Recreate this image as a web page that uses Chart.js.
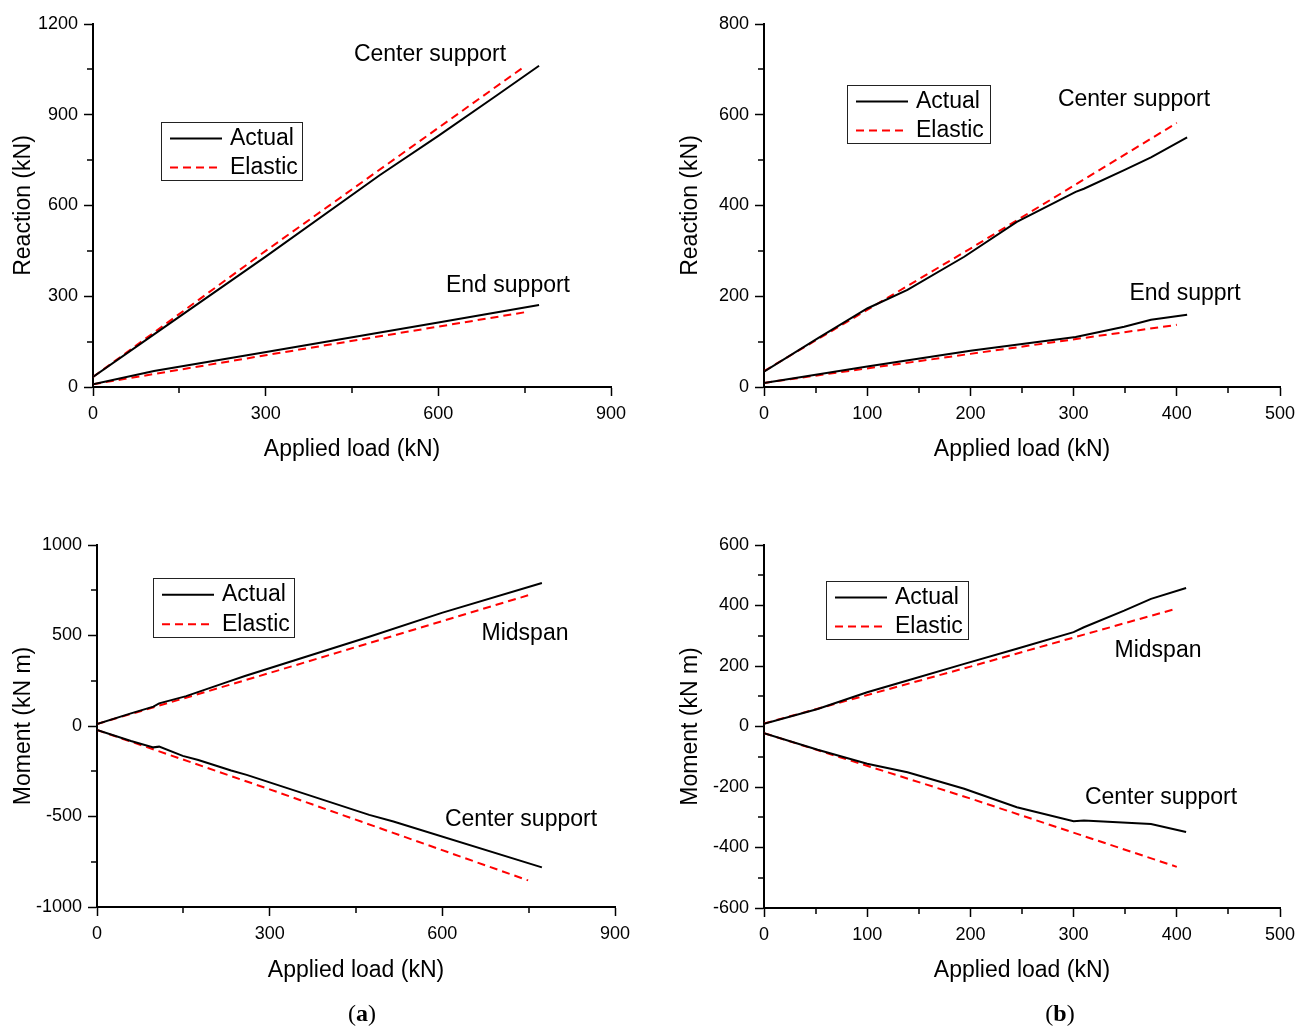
<!DOCTYPE html>
<html>
<head>
<meta charset="utf-8">
<script src="https://cdn.jsdelivr.net/npm/chart.js@4.4.0/dist/chart.umd.min.js"></script>
<style>
  body { margin: 0; background: #fff; width: 1308px; height: 1028px; position: relative; overflow: hidden; font-family: "Liberation Sans", Arial, sans-serif; }
  canvas { position: absolute; }
  .note { position: absolute; transform: translate(-50%, -50%); font-size: 23px; color: #000; white-space: nowrap; }
  .tag { position: absolute; transform: translate(-50%, -50%); font-family: "Liberation Serif", serif; font-size: 24px; color: #000; }
</style>
</head>
<body>
<canvas id="ra" width="660" height="485" style="left:0;top:0"></canvas>
<canvas id="rb" width="648" height="485" style="left:660px;top:0"></canvas>
<canvas id="ma" width="660" height="505" style="left:0;top:495px"></canvas>
<canvas id="mb" width="648" height="505" style="left:660px;top:495px"></canvas>

<div class="note" style="left:430px;top:53px">Center support</div>
<div class="note" style="left:508px;top:284px">End support</div>
<div class="note" style="left:1134px;top:98px">Center support</div>
<div class="note" style="left:1185px;top:292px">End supprt</div>
<div class="note" style="left:525px;top:632px">Midspan</div>
<div class="note" style="left:521px;top:818px">Center support</div>
<div class="note" style="left:1158px;top:649px">Midspan</div>
<div class="note" style="left:1161px;top:796px">Center support</div>
<div class="tag" style="left:362px;top:1013px">(<b>a</b>)</div>
<div class="tag" style="left:1060px;top:1013px">(<b>b</b>)</div>

<script>
// (a) reactions
const raCenterLoad = [0, 106, 300, 498, 600, 700, 775];
const raCenterActual = [33, 174, 431, 700, 830, 962, 1062];
const raCenterElasticLoad = [0, 300, 750];
const raCenterElastic = [33, 450, 1060];
const raEndLoad = [0, 106, 301, 600, 775];
const raEndActual = [9, 53, 116, 213, 271];
const raEndElasticLoad = [0, 300, 750];
const raEndElastic = [9, 105, 247];

// (b) reactions
const rbCenterLoad = [0, 52, 100, 139, 194, 245, 302, 310, 349, 375, 410];
const rbCenterActual = [34, 107, 173, 214, 287, 364, 430, 437, 478, 506, 550];
const rbCenterElasticLoad = [0, 200, 400];
const rbCenterElastic = [35, 305, 582];
const rbEndLoad = [0, 100, 200, 302, 349, 375, 410];
const rbEndActual = [9, 45, 80, 110, 133, 148, 159];
const rbEndElasticLoad = [0, 200, 400];
const rbEndElastic = [9, 73, 137];

// (a) moments
const maMidLoad = [0, 59, 98, 108, 155, 227, 257, 473, 599, 773];
const maMidActual = [11, 70, 107, 125, 165, 244, 276, 493, 625, 790];
const maMidElasticLoad = [0, 300, 749];
const maMidElastic = [11, 293, 722];
const maCenterLoad = [0, 59, 98, 108, 149, 176, 233, 260, 473, 515, 773];
const maCenterActual = [-22, -83, -118, -114, -165, -188, -246, -270, -491, -528, -781];
const maCenterElasticLoad = [0, 300, 749];
const maCenterElastic = [-22, -350, -853];

// (b) moments
const mbMidLoad = [0, 52, 100, 139, 194, 245, 300, 310, 349, 375, 409];
const mbMidActual = [9, 58, 113, 152, 207, 257, 312, 328, 383, 422, 458];
const mbMidElasticLoad = [0, 200, 400];
const mbMidElastic = [10, 198, 390];
const mbCenterLoad = [0, 52, 100, 139, 194, 245, 300, 310, 375, 409];
const mbCenterActual = [-22, -77, -123, -151, -206, -267, -313, -311, -322, -349];
const mbCenterElasticLoad = [0, 200, 400];
const mbCenterElastic = [-22, -238, -464];

const FONT = '"Liberation Sans", Arial, sans-serif';
Chart.defaults.font.family = FONT;
Chart.defaults.color = "#000";

const panels = [
  {
    id: "ra", box: [0, 0, 660, 485], plot: [93, 24, 611, 387],
    x: [0, 900, 300, 150], y: [0, 1200, 300, 150],
    yTitle: "Reaction (kN)", yPad: 10, xPad: 22,
    legend: [161, 122, 302, 180],
    series: [
      [raCenterLoad, raCenterActual, "Actual"],
      [raCenterElasticLoad, raCenterElastic, "Elastic"],
      [raEndLoad, raEndActual, "Actual"],
      [raEndElasticLoad, raEndElastic, "Elastic"],
    ],
  },
  {
    id: "rb", box: [660, 0, 648, 485], plot: [764, 24, 1280, 387],
    x: [0, 500, 100, 50], y: [0, 800, 200, 100],
    yTitle: "Reaction (kN)", yPad: 17, xPad: 22,
    legend: [847, 85, 990, 143],
    series: [
      [rbCenterLoad, rbCenterActual, "Actual"],
      [rbCenterElasticLoad, rbCenterElastic, "Elastic"],
      [rbEndLoad, rbEndActual, "Actual"],
      [rbEndElasticLoad, rbEndElastic, "Elastic"],
    ],
  },
  {
    id: "ma", box: [0, 495, 660, 505], plot: [97, 545, 615, 907],
    x: [0, 900, 300, 150], y: [-1000, 1000, 500, 250],
    yTitle: "Moment (kN m)", yPad: 10, xPad: 16,
    legend: [153, 578, 294, 637],
    series: [
      [maMidLoad, maMidActual, "Actual"],
      [maMidElasticLoad, maMidElastic, "Elastic"],
      [maCenterLoad, maCenterActual, "Actual"],
      [maCenterElasticLoad, maCenterElastic, "Elastic"],
    ],
  },
  {
    id: "mb", box: [660, 495, 648, 505], plot: [764, 545, 1280, 908],
    x: [0, 500, 100, 50], y: [-600, 600, 200, 100],
    yTitle: "Moment (kN m)", yPad: 17, xPad: 16,
    legend: [826, 581, 968, 639],
    series: [
      [mbMidLoad, mbMidActual, "Actual"],
      [mbMidElasticLoad, mbMidElastic, "Elastic"],
      [mbCenterLoad, mbCenterActual, "Actual"],
      [mbCenterElasticLoad, mbCenterElastic, "Elastic"],
    ],
  },
];

const styles = {
  Actual: { borderColor: "#000", borderWidth: 2, borderDash: [] },
  Elastic: { borderColor: "#ff0000", borderWidth: 2, borderDash: [8, 5] },
};

// short ticks between the labelled ones
const minorTicks = {
  id: "minorTicks",
  afterDraw(chart, args, opts) {
    const { ctx } = chart;
    const xs = chart.scales.x;
    const ys = chart.scales.y;
    ctx.save();
    ctx.strokeStyle = "#000";
    ctx.lineWidth = 1.5;
    ctx.beginPath();
    for (let v = xs.min + opts.x; v < xs.max; v += opts.x * 2) {
      const px = Math.round(xs.getPixelForValue(v));
      ctx.moveTo(px, xs.top);
      ctx.lineTo(px, xs.top + 6);
    }
    for (let v = ys.min + opts.y; v < ys.max; v += opts.y * 2) {
      const py = Math.round(ys.getPixelForValue(v));
      ctx.moveTo(ys.right, py);
      ctx.lineTo(ys.right - 6, py);
    }
    ctx.stroke();
    ctx.restore();
  },
};

const boxLegend = {
  id: "boxLegend",
  afterDraw(chart, args, opts) {
    const { ctx } = chart;
    const [x0, y0, x1, y1] = opts.rect;
    const seen = {};
    const items = chart.data.datasets.filter((d) => !seen[d.label] && (seen[d.label] = true));
    const rowH = (y1 - y0) / items.length;
    ctx.save();
    ctx.strokeStyle = "#222";
    ctx.lineWidth = 1;
    ctx.strokeRect(x0 + 0.5, y0 + 0.5, x1 - x0, y1 - y0);
    ctx.font = `23px ${FONT}`;
    ctx.textBaseline = "middle";
    ctx.fillStyle = "#000";
    items.forEach((d, i) => {
      const cy = y0 + rowH * (i + 0.5) + 2;
      ctx.beginPath();
      ctx.setLineDash(d.borderDash);
      ctx.strokeStyle = d.borderColor;
      ctx.lineWidth = d.borderWidth;
      ctx.moveTo(x0 + 9, cy);
      ctx.lineTo(x0 + 61, cy);
      ctx.stroke();
      ctx.setLineDash([]);
      ctx.fillText(d.label, x0 + 69, cy);
    });
    ctx.restore();
  },
};

function axis(range, fit, title, pad, tickPad) {
  const [min, max, step] = range;
  return {
    type: "linear",
    min,
    max,
    border: { display: true, color: "#000", width: 2 },
    grid: { drawOnChartArea: false, drawTicks: true, tickLength: 9, tickColor: "#000", tickWidth: 1.5 },
    ticks: { stepSize: step, font: { size: 18 }, color: "#000", padding: tickPad, maxRotation: 0, callback: (v) => String(v) },
    title: { display: true, text: title, font: { size: 23 }, color: "#000", padding: pad },
    afterFit: fit,
  };
}

panels.forEach((p) => {
  const [bl, bt, bw, bh] = p.box;
  const [pl, pt, pr, pb] = p.plot;
  const [lx0, ly0, lx1, ly1] = p.legend;

  const datasets = p.series.map(([load, values, label]) => ({
    label,
    data: load.map((x, i) => ({ x, y: values[i] })),
    pointRadius: 0,
    tension: 0,
    fill: false,
    ...styles[label],
  }));

  new Chart(document.getElementById(p.id), {
    type: "line",
    data: { datasets },
    plugins: [minorTicks, boxLegend],
    options: {
      responsive: false,
      animation: false,
      layout: { padding: { left: 0, top: pt - bt, right: bl + bw - pr, bottom: 0 } },
      plugins: {
        legend: { display: false },
        tooltip: { enabled: false },
        minorTicks: { x: p.x[3], y: p.y[3] },
        boxLegend: { rect: [lx0 - bl, ly0 - bt, lx1 - bl, ly1 - bt] },
      },
      scales: {
        x: axis(p.x, (s) => { s.height = bt + bh - pb; }, "Applied load (kN)", { top: 0, bottom: p.xPad }, 7),
        y: axis(p.y, (s) => { s.width = pl - bl; }, p.yTitle, { top: p.yPad, bottom: 0 }, 6),
      },
    },
  });
});
</script>
</body>
</html>
